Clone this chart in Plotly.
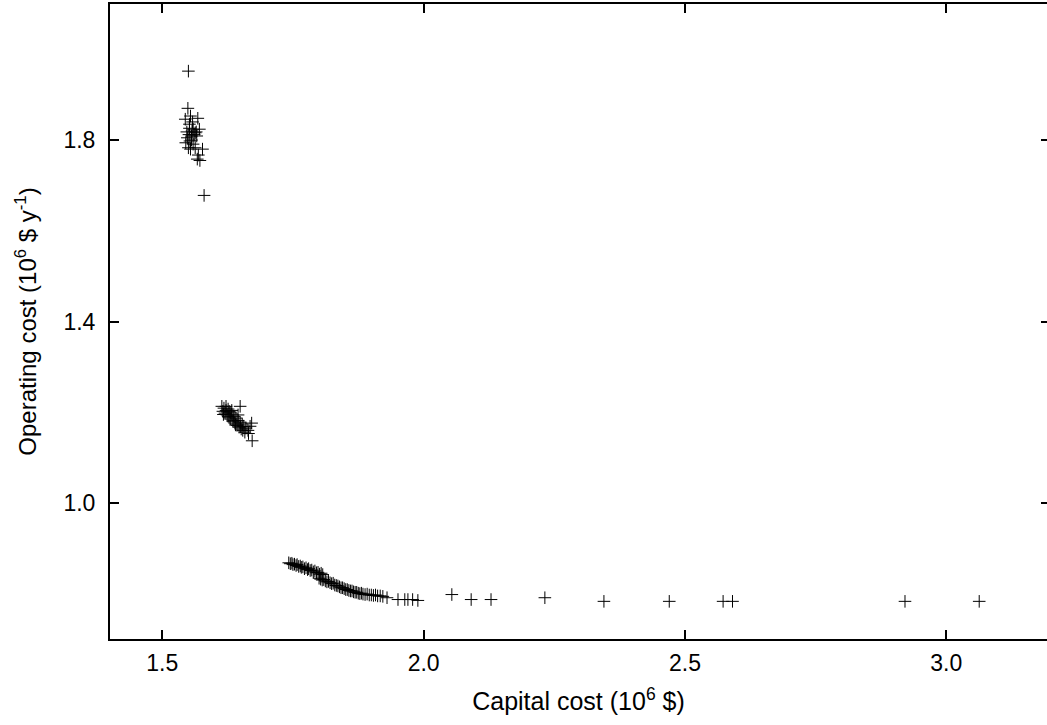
import plotly.graph_objects as go

# Cluster 1 (high operating cost)
c1_x = [1.550, 1.580, 1.549, 1.544, 1.554, 1.568, 1.552, 1.559, 1.571, 1.563,
        1.548, 1.556, 1.566, 1.545, 1.553, 1.559, 1.550, 1.554, 1.563, 1.577,
        1.569, 1.567, 1.572, 1.557, 1.561, 1.551, 1.556, 1.565, 1.552, 1.558, 1.547]
c1_y = [1.952, 1.678, 1.870, 1.846, 1.853, 1.848, 1.835, 1.824, 1.824, 1.816,
        1.805, 1.809, 1.809, 1.794, 1.798, 1.791, 1.783, 1.780, 1.783, 1.780,
        1.767, 1.758, 1.755, 1.820, 1.812, 1.812, 1.800, 1.818, 1.826, 1.840, 1.818]

# Cluster 2 (medium)
c2_x = [1.614, 1.618, 1.622, 1.616, 1.626, 1.630, 1.620, 1.624, 1.633, 1.637,
        1.628, 1.631, 1.641, 1.645, 1.635, 1.639, 1.649, 1.653, 1.643, 1.647,
        1.656, 1.660, 1.651, 1.654, 1.664, 1.649, 1.671, 1.665, 1.672, 1.622,
        1.628, 1.633, 1.637, 1.645, 1.658, 1.668, 1.617, 1.626, 1.640, 1.650]
c2_y = [1.213, 1.209, 1.204, 1.202, 1.207, 1.200, 1.198, 1.194, 1.196, 1.191,
        1.189, 1.185, 1.187, 1.182, 1.180, 1.176, 1.178, 1.174, 1.171, 1.167,
        1.169, 1.165, 1.163, 1.160, 1.160, 1.213, 1.176, 1.153, 1.137, 1.213,
        1.202, 1.204, 1.182, 1.194, 1.156, 1.169, 1.195, 1.191, 1.172, 1.168]

# Cluster 3 (low operating cost front)
c3_x = [1.742, 1.745, 1.748, 1.750, 1.753, 1.756, 1.758, 1.761, 1.764, 1.766,
        1.769, 1.772, 1.775, 1.778, 1.780, 1.783, 1.786, 1.789, 1.792, 1.795,
        1.798, 1.801, 1.804, 1.807,
        1.800, 1.803, 1.806, 1.809, 1.812, 1.815, 1.818, 1.821, 1.824, 1.827,
        1.830, 1.833, 1.836, 1.839, 1.842, 1.845, 1.848, 1.851, 1.854, 1.857,
        1.860, 1.863, 1.866, 1.869, 1.872, 1.875, 1.878, 1.881, 1.884, 1.888,
        1.892, 1.896, 1.900, 1.904, 1.908, 1.912, 1.917, 1.922, 1.930,
        1.951, 1.964, 1.970, 1.979, 1.989,
        2.054, 2.091, 2.129, 2.232, 2.345, 2.470, 2.573, 2.591, 2.921, 3.063]
c3_y = [0.868, 0.866, 0.867, 0.864, 0.865, 0.862, 0.864, 0.860, 0.861, 0.858,
        0.859, 0.855, 0.857, 0.853, 0.855, 0.851, 0.852, 0.848, 0.850, 0.846,
        0.847, 0.843, 0.845, 0.842,
        0.834, 0.832, 0.830, 0.831, 0.828, 0.826, 0.827, 0.824, 0.822, 0.823,
        0.819, 0.818, 0.817, 0.815, 0.813, 0.813, 0.811, 0.809, 0.809, 0.807,
        0.806, 0.806, 0.804, 0.803, 0.803, 0.801, 0.800, 0.801, 0.799, 0.798,
        0.799, 0.797, 0.797, 0.796, 0.797, 0.795, 0.795, 0.794, 0.791,
        0.787, 0.787, 0.787, 0.787, 0.785,
        0.798, 0.787, 0.787, 0.791, 0.783, 0.783, 0.783, 0.783, 0.783, 0.783]

x_ticks = [1.5, 2.0, 2.5, 3.0]
y_ticks = [1.0, 1.4, 1.8]

all_x = c1_x + c2_x + c3_x
all_y = c1_y + c2_y + c3_y

FONT = "Liberation Sans, Arial, sans-serif"

fig = go.Figure()
fig.add_trace(go.Scatter(
    x=all_x, y=all_y, mode="markers",
    marker=dict(symbol="cross-thin", size=9, color="black",
                line=dict(color="black", width=1)),
    showlegend=False, hoverinfo="x+y"))
# invisible trace to activate the right-hand tick axis
fig.add_trace(go.Scatter(
    x=all_x[:1], y=all_y[:1], yaxis="y2", mode="markers",
    marker=dict(opacity=0), showlegend=False, hoverinfo="skip"))

fig.update_layout(
    width=1047, height=725,
    margin=dict(l=110, r=0, t=4, b=86),
    paper_bgcolor="white", plot_bgcolor="white",
    font=dict(family=FONT, size=23, color="black"),
    xaxis=dict(
        range=[1.4, 3.1927], tickvals=x_ticks, tickformat=".1f",
        ticks="inside", ticklen=9, tickwidth=1.5, tickcolor="black",
        showline=True, linewidth=2, linecolor="black", mirror="ticks",
        showgrid=False, zeroline=False, tickfont=dict(size=23),
        ticklabelstandoff=2,
        title=dict(text="Capital cost (10<sup>6</sup> $)", standoff=18,
                   font=dict(size=25)),
    ),
    yaxis=dict(
        range=[0.7, 2.1], tickvals=y_ticks, tickformat=".1f",
        ticks="inside", ticklen=9, tickwidth=1.5, tickcolor="black",
        showline=True, linewidth=2, linecolor="black", mirror=False,
        showgrid=False, zeroline=False, tickfont=dict(size=23),
        ticklabelstandoff=8,
        title=dict(text="Operating cost (10<sup>6</sup> $ y<sup>-1</sup>)",
                   standoff=20, font=dict(size=24)),
    ),
    yaxis2=dict(
        range=[0.7, 2.1], tickvals=y_ticks, overlaying="y", side="right",
        ticks="inside", ticklen=6, tickwidth=1.5, tickcolor="black",
        showticklabels=False, showline=False, showgrid=False, zeroline=False,
    ),
)

fig.write_html("out.html", config={"displayModeBar": False},
               post_script="document.body.style.margin='0px';document.body.style.overflow='hidden';")
